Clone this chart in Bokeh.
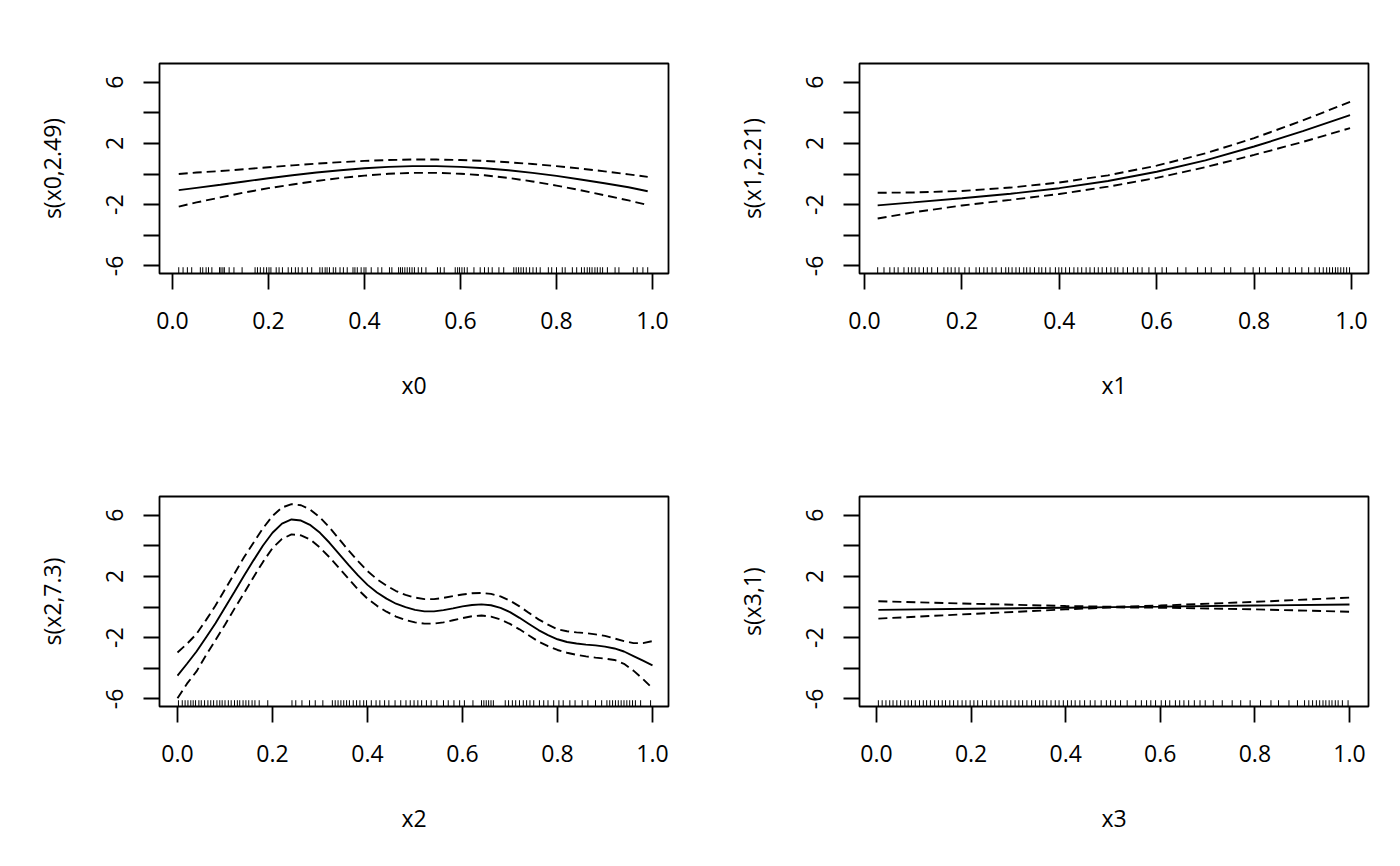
from bokeh.plotting import figure
from bokeh.layouts import column, row
from bokeh.models import Range1d, FixedTicker, PrintfTickFormatter
from bokeh.embed import file_html
from bokeh.resources import INLINE

# ---------------- data ----------------
x_ticks = [0.0, 0.2, 0.4, 0.6, 0.8, 1.0]
y_ticks = [-6, -4, -2, 0, 2, 4, 6]
y_tick_labels = {-6: "-6", -4: "", -2: "-2", 0: "", 2: "2", 4: "", 6: "6"}

x_labels = ["x0", "x1", "x2", "x3"]
y_labels = ["s(x0,2.49)", "s(x1,2.21)", "s(x2,7.3)", "s(x3,1)"]

# panel 1: s(x0)
x0_grid = [0.013, 0.05, 0.10, 0.15, 0.20, 0.25, 0.30, 0.35, 0.40, 0.45, 0.50,
           0.55, 0.60, 0.65, 0.70, 0.75, 0.80, 0.85, 0.90, 0.95, 0.99]
s0_fit = [-1.05, -0.90, -0.70, -0.48, -0.27, -0.08, 0.10, 0.25, 0.38, 0.47, 0.52,
          0.52, 0.47, 0.38, 0.25, 0.08, -0.12, -0.35, -0.60, -0.86, -1.12]
s0_up = [0.01, 0.10, 0.20, 0.32, 0.45, 0.57, 0.68, 0.78, 0.86, 0.92, 0.95,
         0.95, 0.92, 0.86, 0.77, 0.66, 0.52, 0.36, 0.18, -0.02, -0.18]
s0_lo = [-2.12, -1.85, -1.52, -1.20, -0.92, -0.68, -0.45, -0.25, -0.10, 0.02, 0.08,
         0.08, 0.02, -0.08, -0.25, -0.48, -0.75, -1.05, -1.38, -1.72, -2.02]

# panel 2: s(x1)
x1_grid = [0.027, 0.10, 0.20, 0.30, 0.40, 0.50, 0.60, 0.70, 0.80, 0.90, 0.997]
s1_fit = [-2.04, -1.85, -1.58, -1.28, -0.92, -0.45, 0.15, 0.90, 1.80, 2.80, 3.85]
s1_up = [-1.22, -1.20, -1.10, -0.88, -0.55, -0.08, 0.55, 1.35, 2.35, 3.50, 4.72]
s1_lo = [-2.90, -2.50, -2.05, -1.68, -1.30, -0.82, -0.25, 0.45, 1.25, 2.10, 3.00]

# panel 3: s(x2)
x2_grid = [0.00, 0.02, 0.04, 0.06, 0.08, 0.10, 0.12, 0.14, 0.16, 0.18, 0.20, 0.22, 0.24,
           0.26, 0.28, 0.30, 0.32, 0.34, 0.36, 0.38, 0.40, 0.42, 0.44, 0.46, 0.48, 0.50,
           0.52, 0.54, 0.56, 0.58, 0.60, 0.62, 0.64, 0.66, 0.68, 0.70, 0.72, 0.74, 0.76,
           0.78, 0.80, 0.82, 0.84, 0.86, 0.88, 0.90, 0.92, 0.94, 0.96, 0.98, 1.00]
s2_fit = [-4.48, -3.70, -2.90, -1.98, -1.05, -0.02, 1.00, 2.05, 3.05, 4.02, 4.85, 5.45, 5.72,
          5.65, 5.35, 4.85, 4.20, 3.48, 2.75, 2.07, 1.45, 0.95, 0.55, 0.22, 0.00, -0.18,
          -0.28, -0.28, -0.20, -0.08, 0.05, 0.14, 0.18, 0.12, -0.05, -0.33, -0.70, -1.10, -1.50,
          -1.83, -2.10, -2.28, -2.38, -2.45, -2.50, -2.58, -2.70, -2.90, -3.20, -3.50, -3.80]
s2_up = [-2.96, -2.40, -1.75, -0.85, 0.10, 1.15, 2.20, 3.25, 4.20, 5.15, 5.95, 6.50, 6.72,
         6.65, 6.35, 5.85, 5.20, 4.45, 3.70, 3.00, 2.35, 1.82, 1.40, 1.05, 0.80, 0.62,
         0.52, 0.52, 0.60, 0.72, 0.82, 0.90, 0.92, 0.86, 0.70, 0.42, 0.05, -0.38, -0.80,
         -1.15, -1.45, -1.58, -1.65, -1.70, -1.78, -1.88, -2.05, -2.22, -2.35, -2.35, -2.22]
s2_lo = [-5.95, -5.00, -4.20, -3.15, -2.15, -1.15, -0.10, 0.90, 1.95, 2.95, 3.85, 4.45, 4.75,
         4.68, 4.40, 3.88, 3.25, 2.55, 1.85, 1.15, 0.55, 0.08, -0.30, -0.62, -0.85, -1.00,
         -1.08, -1.08, -1.00, -0.86, -0.72, -0.60, -0.55, -0.62, -0.80, -1.10, -1.45, -1.85, -2.25,
         -2.55, -2.80, -2.98, -3.12, -3.22, -3.30, -3.36, -3.45, -3.70, -4.15, -4.70, -5.30]

# panel 4: s(x3)
x3_grid = [0.004, 0.20, 0.40, 0.50, 0.60, 0.80, 1.00]
s3_fit = [-0.18, -0.11, -0.04, 0.00, 0.03, 0.10, 0.17]
s3_up = [0.38, 0.22, 0.07, 0.02, 0.10, 0.34, 0.62]
s3_lo = [-0.75, -0.45, -0.15, -0.02, -0.04, -0.15, -0.30]

# rug values (observed covariates)
rug0 = [0.013, 0.022, 0.031, 0.040, 0.058, 0.063, 0.070, 0.075, 0.082, 0.098, 0.101, 0.105,
        0.108, 0.118, 0.128, 0.145, 0.172, 0.177, 0.183, 0.190, 0.196, 0.201, 0.205, 0.216,
        0.222, 0.229, 0.241, 0.248, 0.256, 0.262, 0.270, 0.281, 0.290, 0.307, 0.312, 0.318,
        0.322, 0.327, 0.335, 0.340, 0.349, 0.356, 0.364, 0.376, 0.380, 0.385, 0.393, 0.399,
        0.403, 0.414, 0.428, 0.436, 0.452, 0.457, 0.471, 0.475, 0.479, 0.484, 0.489, 0.494,
        0.499, 0.504, 0.512, 0.519, 0.528, 0.552, 0.558, 0.566, 0.589, 0.594, 0.598, 0.603,
        0.608, 0.614, 0.628, 0.641, 0.650, 0.658, 0.666, 0.680, 0.690, 0.711, 0.716, 0.721,
        0.726, 0.731, 0.737, 0.744, 0.751, 0.758, 0.766, 0.783, 0.790, 0.800, 0.812, 0.818,
        0.833, 0.842, 0.852, 0.858, 0.864, 0.869, 0.874, 0.880, 0.885, 0.891, 0.896, 0.906,
        0.922, 0.930, 0.960, 0.968, 0.980, 0.990]
rug1 = [0.027, 0.040, 0.052, 0.061, 0.069, 0.081, 0.090, 0.097, 0.104, 0.112, 0.121, 0.129,
        0.138, 0.150, 0.163, 0.171, 0.178, 0.186, 0.194, 0.206, 0.215, 0.229, 0.236, 0.245,
        0.252, 0.262, 0.270, 0.281, 0.290, 0.296, 0.303, 0.311, 0.318, 0.327, 0.333, 0.340,
        0.349, 0.358, 0.364, 0.372, 0.381, 0.392, 0.399, 0.405, 0.413, 0.421, 0.430, 0.438,
        0.446, 0.455, 0.463, 0.472, 0.480, 0.488, 0.497, 0.506, 0.514, 0.520, 0.531, 0.540,
        0.552, 0.561, 0.570, 0.584, 0.597, 0.611, 0.620, 0.643, 0.660, 0.684, 0.700, 0.712,
        0.739, 0.752, 0.781, 0.798, 0.811, 0.823, 0.846, 0.858, 0.872, 0.885, 0.898, 0.912,
        0.925, 0.934, 0.942, 0.949, 0.955, 0.961, 0.967, 0.972, 0.978, 0.984, 0.990, 0.996]
rug2 = [0.002, 0.010, 0.016, 0.022, 0.028, 0.033, 0.038, 0.045, 0.050, 0.057, 0.064, 0.070,
        0.076, 0.083, 0.089, 0.094, 0.100, 0.107, 0.113, 0.120, 0.126, 0.131, 0.138, 0.144,
        0.150, 0.157, 0.163, 0.172, 0.190, 0.241, 0.249, 0.262, 0.278, 0.290, 0.306, 0.326,
        0.332, 0.338, 0.344, 0.350, 0.356, 0.362, 0.370, 0.377, 0.384, 0.392, 0.398, 0.408,
        0.418, 0.426, 0.436, 0.445, 0.458, 0.470, 0.481, 0.490, 0.498, 0.506, 0.514, 0.524,
        0.534, 0.546, 0.560, 0.570, 0.582, 0.594, 0.604, 0.622, 0.640, 0.645, 0.650, 0.655,
        0.660, 0.665, 0.690, 0.697, 0.705, 0.712, 0.720, 0.728, 0.735, 0.742, 0.750, 0.762,
        0.771, 0.780, 0.792, 0.803, 0.812, 0.826, 0.837, 0.852, 0.864, 0.880, 0.893, 0.904,
        0.910, 0.916, 0.922, 0.928, 0.934, 0.940, 0.946, 0.952, 0.958, 0.964, 0.975, 0.996]
rug3 = [0.004, 0.012, 0.020, 0.028, 0.035, 0.043, 0.051, 0.060, 0.067, 0.074, 0.082, 0.091,
        0.099, 0.106, 0.114, 0.123, 0.131, 0.139, 0.146, 0.155, 0.163, 0.172, 0.181, 0.189,
        0.198, 0.206, 0.214, 0.224, 0.233, 0.242, 0.250, 0.259, 0.267, 0.276, 0.284, 0.293,
        0.301, 0.309, 0.318, 0.328, 0.336, 0.345, 0.352, 0.360, 0.369, 0.378, 0.386, 0.395,
        0.404, 0.412, 0.420, 0.430, 0.440, 0.452, 0.462, 0.475, 0.486, 0.495, 0.505, 0.516,
        0.530, 0.548, 0.560, 0.571, 0.580, 0.590, 0.602, 0.611, 0.620, 0.632, 0.641, 0.650,
        0.660, 0.672, 0.684, 0.695, 0.712, 0.731, 0.752, 0.770, 0.790, 0.812, 0.834, 0.850,
        0.872, 0.890, 0.905, 0.914, 0.922, 0.930, 0.937, 0.944, 0.950, 0.957, 0.963, 0.970,
        0.976, 0.985, 0.997]

# ---------------- style ----------------
FONT = "Open Sans"
FONT_SIZE = "23px"
Y_MIN, Y_MAX = -6.49, 7.22
RUG_LEN = 0.41  # rug tick length in data units (~3% of the plot height)

x_ranges = [(-0.0271, 1.0333), (-0.0103, 1.0349), (-0.0379, 1.0337), (-0.0359, 1.0402)]

panels = [
    (x0_grid, s0_fit, s0_up, s0_lo, rug0),
    (x1_grid, s1_fit, s1_up, s1_lo, rug1),
    (x2_grid, s2_fit, s2_up, s2_lo, rug2),
    (x3_grid, s3_fit, s3_up, s3_lo, rug3),
]

# figure geometry: (width, height, left, right, top, bottom)
geom = [
    (700, 438, 159, 32, 63, 165),
    (692, 438, 159, 24, 63, 165),
    (700, 420, 159, 32, 58, 152),
    (692, 420, 159, 24, 58, 152),
]

figs = []
for i, (xg, fit, up, lo, rug) in enumerate(panels):
    w, h, bl, br, bt, bb = geom[i]
    p = figure(width=w, height=h, output_backend="svg", toolbar_location=None,
               x_range=Range1d(*x_ranges[i]), y_range=Range1d(Y_MIN, Y_MAX),
               min_border_left=bl, min_border_right=br,
               min_border_top=bt, min_border_bottom=bb)
    p.xgrid.visible = False
    p.ygrid.visible = False
    p.outline_line_color = "black"
    p.outline_line_width = 1.8
    p.outline_line_alpha = 1.0
    p.background_fill_color = "white"
    p.border_fill_color = "white"

    p.line(xg, fit, line_color="black", line_width=1.9)
    p.line(xg, up, line_color="black", line_width=1.9, line_dash="9 5")
    p.line(xg, lo, line_color="black", line_width=1.9, line_dash="9 5")
    p.segment(x0=rug, y0=[Y_MIN] * len(rug), x1=rug, y1=[Y_MIN + RUG_LEN] * len(rug),
              line_color="black", line_width=1)

    xa = p.xaxis[0]
    xa.ticker = FixedTicker(ticks=x_ticks)
    xa.formatter = PrintfTickFormatter(format="%.1f")
    ya = p.yaxis[0]
    ya.ticker = FixedTicker(ticks=y_ticks)
    ya.major_label_overrides = y_tick_labels
    ya.major_label_orientation = "vertical"

    for ax in (xa, ya):
        ax.axis_line_color = None
        ax.minor_tick_line_color = None
        ax.major_tick_out = 16
        ax.major_tick_in = 0
        ax.major_tick_line_width = 1.8
        ax.major_tick_line_color = "black"
        ax.major_label_text_font = FONT
        ax.major_label_text_font_size = FONT_SIZE
        ax.major_label_text_color = "black"
        ax.axis_label_text_font = FONT
        ax.axis_label_text_font_size = FONT_SIZE
        ax.axis_label_text_font_style = "normal"
        ax.axis_label_text_color = "black"

    xa.axis_label = x_labels[i]
    ya.axis_label = y_labels[i]
    xa.major_label_standoff = 22
    xa.axis_label_standoff = 37
    ya.major_label_standoff = 20
    ya.axis_label_standoff = 36
    figs.append(p)

layout = column(row(figs[0], figs[1]), row(figs[2], figs[3]))
open("out.html", "w").write(file_html(layout, INLINE))
